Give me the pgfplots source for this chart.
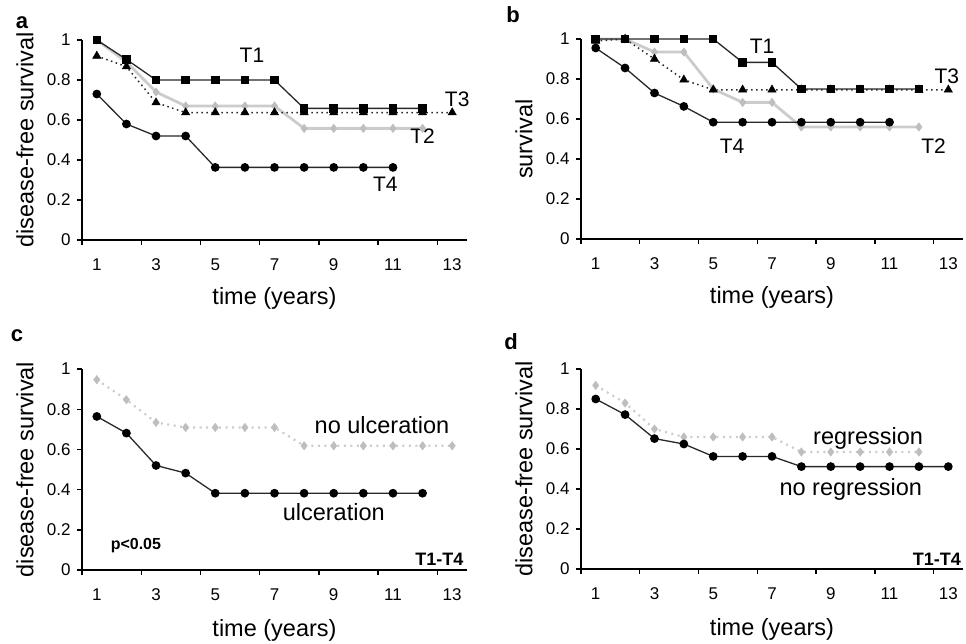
\documentclass[border=0pt]{standalone}
\usepackage{fontspec}
\setmainfont{Liberation Sans}
\usepackage{pgfplots}
\pgfplotsset{compat=1.18}

\definecolor{ltgray}{RGB}{204,204,204}
\definecolor{mkgray}{RGB}{190,190,190}
\definecolor{dkline}{RGB}{40,40,40}

\newcommand{\tickfont}{\fontsize{17}{20}\selectfont}
\newcommand{\titlefont}{\fontsize{23.5}{28}\selectfont}
\newcommand{\labfont}{\fontsize{21}{25}\selectfont}
\newcommand{\txtfont}{\fontsize{23.5}{28}\selectfont}

\pgfplotsset{
  km/.style={
    scale only axis, anchor=south west,
    xmin=0.5, xmax=13.5, ymin=0, ymax=1,
    axis x line*=bottom, axis y line*=left,
    axis line style={-, line width=1.6pt, black},
    xtick={0.5,2.5,...,12.5}, xticklabels={1,3,5,7,9,11,13},
    ytick={0,0.2,0.4,0.6,0.8,1},
    tick align=outside, major tick length=5pt,
    tick style={line width=1.4pt, black},
    /pgf/number format/assume math mode=true,
    ticklabel style={font=\tickfont},
    % labels sit in the middle of each category, half a year right of the tick
    xticklabel style={xshift=#1, yshift=-10pt},
    yticklabel style={xshift=-3pt},
    clip=false,
  },
  % survival steps
  sq/.style={dkline, line width=1.3pt, mark=square*, mark size=3.6pt,
    mark options={fill=black, draw=black, solid}},
  dm/.style={ltgray, line width=2.8pt, mark=diamond*, mark size=4.2pt,
    mark options={fill=mkgray, draw=mkgray, solid, line width=0.5pt}},
  tr/.style={dkline, line width=1.5pt, dash pattern=on 1.5pt off 3.5pt,
    mark=triangle*, mark size=4.8pt,
    mark options={fill=black, draw=black, solid, line width=0.5pt}},
  ci/.style={dkline, line width=1.3pt, mark=*, mark size=3.7pt,
    mark options={fill=black, draw=black, solid}},
  dmdot/.style={ltgray, line width=2.2pt, dash pattern=on 2pt off 4.5pt,
    mark=diamond*, mark size=4.2pt,
    mark options={fill=mkgray, draw=mkgray, solid, line width=0.5pt}},
}

\begin{document}
\begin{tikzpicture}
\path[use as bounding box] (0pt,0pt) rectangle (966pt,643pt);

% ---------------- a ----------------
\begin{axis}[km=14.8pt, at={(82pt,403pt)}, width=385pt, height=200pt]
\addplot[dm] coordinates {(1,1.0) (2,0.89) (3,0.74) (4,0.67) (5,0.67) (6,0.67) (7,0.67)
  (8,0.558) (9,0.558) (10,0.558) (11,0.558) (12,0.558)};
\addplot[tr] coordinates {(1,0.92) (2,0.867) (3,0.687) (4,0.637) (5,0.637) (6,0.637) (7,0.637)
  (8,0.637) (9,0.637) (10,0.637) (11,0.637) (12,0.637) (13,0.637)};
\addplot[sq] coordinates {(1,1.0) (2,0.903) (3,0.80) (4,0.80) (5,0.80) (6,0.80) (7,0.80)
  (8,0.658) (9,0.658) (10,0.658) (11,0.658) (12,0.658)};
\addplot[ci] coordinates {(1,0.73) (2,0.58) (3,0.52) (4,0.52) (5,0.363) (6,0.363) (7,0.363)
  (8,0.363) (9,0.363) (10,0.363) (11,0.363)};
\node[font=\labfont] at (axis cs:6.24,0.925) {T1};
\node[font=\labfont] at (axis cs:13.17,0.703) {T3};
\node[font=\labfont] at (axis cs:12.0,0.517) {T2};
\node[font=\labfont] at (axis cs:10.74,0.278) {T4};
\node[font=\titlefont] at ([yshift=-58pt]axis description cs:0.5,0) {time (years)};
\node[font=\titlefont, rotate=90] at ([xshift=-57pt]axis description cs:0,0.5) {disease-free survival};
\end{axis}

% ---------------- b ----------------
\begin{axis}[km=14.7pt, at={(581pt,404pt)}, width=382pt, height=200pt]
\addplot[dm] coordinates {(1,1.0) (2,1.0) (3,0.935) (4,0.935) (5,0.75) (6,0.683) (7,0.683)
  (8,0.56) (9,0.56) (10,0.56) (11,0.56) (12,0.56)};
\addplot[tr] coordinates {(1,0.99) (2,1.0) (3,0.90) (4,0.796) (5,0.746) (6,0.746) (7,0.746)
  (8,0.746) (9,0.746) (10,0.746) (11,0.746) (12,0.746) (13,0.746)};
\addplot[sq] coordinates {(1,1.0) (2,1.0) (3,1.0) (4,1.0) (5,1.0) (6,0.883) (7,0.883)
  (8,0.75) (9,0.75) (10,0.75) (11,0.75) (12,0.75)};
\addplot[ci] coordinates {(1,0.955) (2,0.855) (3,0.73) (4,0.663) (5,0.584) (6,0.584) (7,0.584)
  (8,0.584) (9,0.584) (10,0.584) (11,0.584)};
\node[font=\labfont] at (axis cs:6.66,0.963) {T1};
\node[font=\labfont] at (axis cs:12.95,0.816) {T3};
\node[font=\labfont] at (axis cs:5.64,0.462) {T4};
\node[font=\labfont] at (axis cs:12.5,0.462) {T2};
\node[font=\titlefont] at ([yshift=-58pt]axis description cs:0.5,0) {time (years)};
\node[font=\titlefont, rotate=90] at ([xshift=-57pt]axis description cs:0,0.5) {survival};
\end{axis}

% ---------------- c ----------------
\begin{axis}[km=14.8pt, at={(82pt,73pt)}, width=385pt, height=201pt]
\addplot[dmdot] coordinates {(1,0.947) (2,0.847) (3,0.734) (4,0.709) (5,0.709) (6,0.709) (7,0.709)
  (8,0.618) (9,0.618) (10,0.618) (11,0.618) (12,0.618) (13,0.618)};
\addplot[ci] coordinates {(1,0.764) (2,0.681) (3,0.52) (4,0.482) (5,0.382) (6,0.382) (7,0.382)
  (8,0.382) (9,0.382) (10,0.382) (11,0.382) (12,0.382)};
\node[font=\txtfont] at (axis cs:10.63,0.723) {no ulceration};
\node[font=\txtfont] at (axis cs:9.0,0.29) {ulceration};
\node[font=\fontsize{16}{19}\selectfont\bfseries] at (axis cs:2.32,0.12) {p<0.05};
\node[font=\fontsize{18}{21}\selectfont\bfseries, anchor=base east] at (axis cs:13.5,0.02) {T1-T4};
\node[font=\titlefont] at ([yshift=-60pt]axis description cs:0.5,0) {time (years)};
\node[font=\titlefont, rotate=90] at ([xshift=-57pt]axis description cs:0,0.5) {disease-free survival};
\end{axis}

% ---------------- d ----------------
\begin{axis}[km=14.7pt, at={(581pt,74pt)}, width=382pt, height=200pt]
\addplot[dmdot] coordinates {(1,0.918) (2,0.83) (3,0.70) (4,0.66) (5,0.66) (6,0.66) (7,0.66)
  (8,0.585) (9,0.585) (10,0.585) (11,0.585) (12,0.585)};
\addplot[ci] coordinates {(1,0.85) (2,0.772) (3,0.652) (4,0.625) (5,0.563) (6,0.563) (7,0.563)
  (8,0.512) (9,0.512) (10,0.512) (11,0.512) (12,0.512) (13,0.512)};
\node[font=\txtfont] at (axis cs:10.27,0.655) {regression};
\node[font=\txtfont] at (axis cs:9.68,0.40) {no regression};
\node[font=\fontsize{18}{21}\selectfont\bfseries, anchor=base east] at (axis cs:13.55,0.02) {T1-T4};
\node[font=\titlefont] at ([yshift=-60pt]axis description cs:0.5,0) {time (years)};
\node[font=\titlefont, rotate=90] at ([xshift=-57pt]axis description cs:0,0.5) {disease-free survival};
\end{axis}

% panel letters
\node[font=\fontsize{22}{26}\selectfont\bfseries] at (22pt,620pt) {a};
\node[font=\fontsize{22}{26}\selectfont\bfseries] at (513pt,628pt) {b};
\node[font=\fontsize{22}{26}\selectfont\bfseries] at (17pt,307pt) {c};
\node[font=\fontsize{22}{26}\selectfont\bfseries] at (511pt,301pt) {d};
\end{tikzpicture}
\end{document}
